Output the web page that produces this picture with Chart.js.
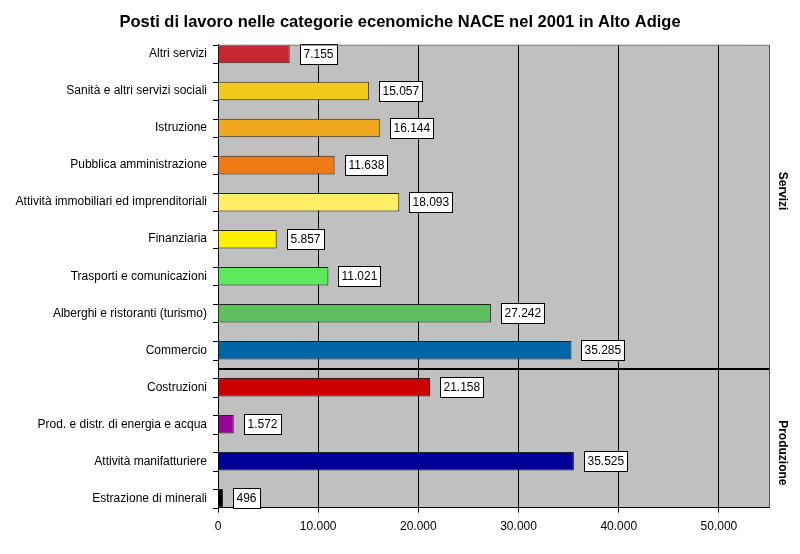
<!DOCTYPE html>
<html lang="it">
<head>
    <meta charset="UTF-8">
    <title>Posti di lavoro NACE 2001</title>
    <script src="https://cdn.jsdelivr.net/npm/chart.js"></script>
    <style>
        html, body { margin: 0; padding: 0; background: #fff; }
        #wrap { width: 800px; height: 554px; }
    </style>
</head>
<body>
<div id="wrap"><canvas id="naceChart"></canvas></div>
<script>
// categorie dall'alto verso il basso
const categorie = [
    'Altri servizi',
    'Sanità e altri servizi sociali',
    'Istruzione',
    'Pubblica amministrazione',
    'Attività immobiliari ed imprenditoriali',
    'Finanziaria',
    'Trasporti e comunicazioni',
    'Alberghi e ristoranti (turismo)',
    'Commercio',
    'Costruzioni',
    'Prod. e distr. di energia e acqua',
    'Attività manifatturiere',
    'Estrazione di minerali'
];
const posti = [7155, 15057, 16144, 11638, 18093, 5857, 11021, 27242, 35285, 21158, 1572, 35525, 496];
const colori = ['#C6292F', '#F2CA1C', '#F0A91E', '#F07A14', '#FFEE66', '#FFEE00', '#5CEA5C', '#5FBF5F', '#0066AA', '#CC0000', '#990099', '#000099', '#000000'];
const xTicks = [0, 10000, 20000, 30000, 40000, 50000];
const gruppi = [
    { nome: 'Servizi', pos: 3.7 },
    { nome: 'Produzione', pos: 10.77 }
];
const separatore = 8.5;
const xMax = 55000;

function formatta(v) {
    return String(v).replace(/\B(?=(\d{3})+(?!\d))/g, '.');
}

const FONT = '"Liberation Sans", Arial, sans-serif';

const sfondoPlugin = {
    id: 'sfondo',
    beforeDraw(chart) {
        const { ctx, chartArea: a } = chart;
        ctx.save();
        ctx.fillStyle = '#C0C0C0';
        ctx.fillRect(a.left, a.top, a.right - a.left, a.bottom - a.top);
        ctx.restore();
    },
    afterDraw(chart) {
        const { ctx, chartArea: a, scales } = chart;
        ctx.save();
        // bordi
        ctx.lineWidth = 1;
        ctx.strokeStyle = '#808080';
        ctx.beginPath();
        ctx.moveTo(a.left, a.top + 0.5);
        ctx.lineTo(a.right, a.top + 0.5);
        ctx.stroke();
        ctx.strokeStyle = '#555';
        ctx.beginPath();
        ctx.moveTo(a.right + 0.5, a.top);
        ctx.lineTo(a.right + 0.5, a.bottom);
        ctx.stroke();
        // tacche asse y
        ctx.strokeStyle = '#000';
        const y = scales.y;
        for (let v = -0.25; v <= 12.26; v += 0.5) {
            const py = Math.round(y.getPixelForValue(v)) + 0.5;
            ctx.beginPath();
            ctx.moveTo(a.left - 5, py);
            ctx.lineTo(a.left, py);
            ctx.stroke();
        }
        // linea separatrice
        const sy = Math.round(y.getPixelForValue(separatore));
        ctx.lineWidth = 2;
        ctx.beginPath();
        ctx.moveTo(a.left, sy);
        ctx.lineTo(a.right, sy);
        ctx.stroke();
        // gruppi a destra
        ctx.fillStyle = '#000';
        ctx.font = 'bold 12px ' + FONT;
        ctx.textAlign = 'center';
        ctx.textBaseline = 'middle';
        gruppi.forEach(g => {
            ctx.save();
            ctx.translate(a.right + 13, y.getPixelForValue(g.pos));
            ctx.rotate(Math.PI / 2);
            ctx.fillText(g.nome, 0, 0);
            ctx.restore();
        });
        ctx.restore();
    },
    afterDatasetsDraw(chart) {
        const { ctx } = chart;
        const meta = chart.getDatasetMeta(0);
        ctx.save();
        ctx.font = '12px ' + FONT;
        ctx.textBaseline = 'middle';
        ctx.textAlign = 'left';
        meta.data.forEach((bar, i) => {
            const testo = formatta(posti[i]);
            const w = Math.ceil(ctx.measureText(testo).width) + 6;
            const h = 20;
            const x0 = Math.round(bar.x) + 10;
            const y0 = Math.round(bar.y - h / 2);
            ctx.fillStyle = '#fff';
            ctx.fillRect(x0, y0, w, h);
            ctx.strokeStyle = '#000';
            ctx.lineWidth = 1;
            ctx.strokeRect(x0 + 0.5, y0 + 0.5, w, h);
            ctx.fillStyle = '#000';
            ctx.fillText(testo, x0 + 3.5, y0 + h / 2 + 1);
        });
        ctx.restore();
    }
};

const ctx = document.getElementById('naceChart').getContext('2d');
new Chart(ctx, {
    type: 'bar',
    data: {
        datasets: [{
            data: posti.map((v, i) => ({ x: v, y: i })),
            backgroundColor: colori,
            borderColor: '#222',
            borderWidth: 1,
            barPercentage: 0.5,
            categoryPercentage: 1
        }]
    },
    plugins: [sfondoPlugin],
    options: {
        indexAxis: 'y',
        responsive: true,
        maintainAspectRatio: false,
        animation: false,
        layout: { padding: { left: 0, right: 0, top: 0, bottom: 13 } },
        plugins: {
            legend: { display: false },
            tooltip: { enabled: false },
            title: {
                display: true,
                text: 'Posti di lavoro nelle categorie ecenomiche NACE nel 2001 in Alto Adige',
                color: '#000',
                font: { family: FONT, size: 16.5, weight: 'bold' },
                padding: { top: 13, bottom: 12 }
            }
        },
        scales: {
            x: {
                type: 'linear',
                min: 0,
                max: xMax,
                afterBuildTicks(s) {
                    s.ticks = xTicks.map(v => ({ value: v }));
                },
                grid: {
                    color: '#000',
                    tickLength: 5,
                    tickColor: '#000'
                },
                border: { color: '#000', width: 1 },
                ticks: {
                    color: '#000',
                    padding: 7,
                    maxRotation: 0,
                    autoSkip: false,
                    font: { family: FONT, size: 12 },
                    callback: v => formatta(v)
                }
            },
            y: {
                type: 'linear',
                reverse: true,
                offset: false,
                min: -0.25,
                max: 12.25,
                afterFit(s) { s.width = 218; },
                afterBuildTicks(s) {
                    s.ticks = categorie.map((c, i) => ({ value: i }));
                },
                grid: { display: false, drawTicks: false, offset: false },
                border: { color: '#000', width: 1 },
                ticks: {
                    color: '#000',
                    padding: 11,
                    autoSkip: false,
                    font: { family: FONT, size: 12 },
                    callback: v => categorie[v]
                }
            },
            // spazio a destra per le etichette dei gruppi
            yR: {
                type: 'linear',
                position: 'right',
                afterFit(s) { s.width = 31; },
                grid: { display: false, drawTicks: false },
                border: { display: false },
                ticks: { display: false }
            }
        }
    }
});
</script>
</body>
</html>
